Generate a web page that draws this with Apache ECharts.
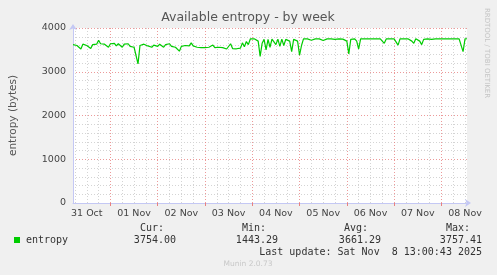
<!DOCTYPE html>
<html>
<head>
<meta charset="utf-8">
<script src="https://cdn.jsdelivr.net/npm/echarts@6/dist/echarts.min.js"></script>
<style>
html,body{margin:0;padding:0;background:#F0F0F0;}
#c{width:497px;height:275px;}
</style>
</head>
<body>
<div id="c"></div>
<script>
// hours since 31 Oct 00:00; first sample at 05:00, one sample per hour
const START_H = 5;
const END_H = 205;
const entropy = [
3620,3650,3600,3640,3520,3630,3660,3600,3640,3530,
3620,3650,3630,3720,3640,3630,3630,3620,3560,3640,
3610,3650,3590,3640,3600,3560,3630,3600,3640,3580,
3620,3560,3600,3180,3600,3580,3630,3670,3590,3620,
3560,3610,3650,3580,3630,3600,3560,3620,3590,3640,
3580,3610,3560,3590,3470,3580,3560,3600,3570,3590,
3660,3590,3570,3560,3580,3550,3570,3550,3540,3560,
3550,3610,3550,3540,3560,3530,3550,3530,3520,3560,
3640,3530,3520,3525,3530,3540,3660,3570,3690,3620,
3750,3752,3752,3750,3700,3350,3650,3740,3500,3740,
3560,3745,3700,3620,3745,3580,3745,3600,3740,3745,
3700,3460,3740,3748,3700,3380,3600,3750,3752,3752,
3752,3720,3752,3752,3752,3752,3752,3715,3752,3752,
3725,3752,3752,3740,3752,3752,3752,3745,3752,3700,
3410,3740,3752,3752,3700,3520,3750,3752,3752,3752,
3752,3752,3752,3752,3752,3752,3752,3752,3650,3750,
3715,3752,3752,3752,3752,3610,3750,3720,3750,3730,
3752,3752,3700,3650,3752,3752,3700,3620,3740,3700,
3752,3730,3740,3752,3752,3752,3752,3752,3752,3752,
3752,3752,3752,3752,3752,3752,3752,3752,3460,3750,
3754
];
const dayLabels = ['31 Oct','01 Nov','02 Nov','03 Nov','04 Nov','05 Nov','06 Nov','07 Nov','08 Nov'];
const midnights = [24,48,72,96,120,144,168,192];
const labelHours = [12,36,60,84,108,132,156,180,204];
const legendHeaders = ['Cur:','Min:','Avg:','Max:'];
const legendValues = ['3754.00','1443.29','3661.29','3757.41'];
const lastUpdate = 'Last update: Sat Nov  8 13:00:43 2025';

const sixHours = [];
for (let h = 6; h <= 204; h += 6) if (h % 24 !== 0) sixHours.push(h);

const seriesData = entropy.map((v, i) => [START_H + i, v]);

const MONO = '10px "DejaVu Sans Mono"';
const headRight = [164, 266, 368, 470];
const valRight = [176, 278, 381, 482];
const graphics = [
  {type:'text', style:{text:'Available entropy - by week', x:248, y:18, font:'12.5px "DejaVu Sans"', fill:'#555', align:'center', textAlign:'center', verticalAlign:'middle', textVerticalAlign:'middle'}},
  {type:'text', x:487, y:53, rotation:-Math.PI/2, style:{text:'RRDTOOL / TOBI OETIKER', x:0, y:0, font:'7px "DejaVu Sans"', fill:'#c4c4c4', align:'center', textAlign:'center', verticalAlign:'middle', textVerticalAlign:'middle'}},
  {type:'rect', shape:{x:14, y:237, width:6, height:6}, style:{fill:'#00CC00'}},
  {type:'text', style:{text:'entropy', x:26, y:240, font:MONO, fill:'#333', align:'left', textAlign:'left', verticalAlign:'middle', textVerticalAlign:'middle'}},
  {type:'text', style:{text:lastUpdate, x:482, y:252, font:MONO, fill:'#333', align:'right', textAlign:'right', verticalAlign:'middle', textVerticalAlign:'middle'}},
  {type:'text', style:{text:'Munin 2.0.73', x:248, y:264, font:'7.5px "DejaVu Sans"', fill:'#c8c8c8', align:'center', textAlign:'center', verticalAlign:'middle', textVerticalAlign:'middle'}}
];
legendHeaders.forEach((t, k) => graphics.push({type:'text', style:{text:t, x:headRight[k], y:228, font:MONO, fill:'#333', align:'right', textAlign:'right', verticalAlign:'middle', textVerticalAlign:'middle'}}));
legendValues.forEach((t, k) => graphics.push({type:'text', style:{text:t, x:valRight[k], y:240, font:MONO, fill:'#333', align:'right', textAlign:'right', verticalAlign:'middle', textVerticalAlign:'middle'}}));

const AXIS_COLOR = '#C4C8F4';
const MAJOR = 'rgba(230,120,120,0.75)';
const MINOR = '#d4d4d4';
const chart = echarts.init(document.getElementById('c'), null, {renderer:'canvas'});
chart.setOption({
  animation:false,
  backgroundColor:'#F0F0F0',
  textStyle:{fontFamily:'DejaVu Sans'},
  grid:{left:67, top:28, width:400, height:175, show:true, backgroundColor:'#FFFFFF', borderWidth:0},
  xAxis:[
    {type:'value', min:START_H, max:END_H, position:'bottom',
     axisLine:{show:false}, axisLabel:{show:false},
     axisTick:{show:false, customValues:sixHours},
     splitLine:{show:true, lineStyle:{color:MINOR, width:1, type:[1,2]}}},
    {type:'value', min:START_H, max:END_H, position:'bottom',
     axisLine:{show:true, onZero:false, lineStyle:{color:AXIS_COLOR, width:1}, symbol:['none','arrow'], symbolSize:[6,6], symbolOffset:[0,4]},
     axisTick:{show:true, customValues:midnights, length:3, lineStyle:{color:'#e88080'}},
     axisLabel:{show:true, customValues:labelHours, margin:6, fontSize:9.5, color:'#444', fontFamily:'DejaVu Sans',
       formatter:(v) => dayLabels[Math.round((v - 12) / 24)]},
     splitLine:{show:true, lineStyle:{color:MAJOR, width:1, type:[1,2]}}}
  ],
  yAxis:{type:'value', min:0, max:4000, interval:1000,
    name:'entropy (bytes)', nameLocation:'middle', nameRotate:90, nameGap:54,
    nameTextStyle:{fontSize:10.5, color:'#555', fontFamily:'DejaVu Sans'},
    axisLine:{show:true, lineStyle:{color:AXIS_COLOR, width:1}, symbol:['none','arrow'], symbolSize:[6,6], symbolOffset:[0,4]},
    axisTick:{show:false},
    axisLabel:{margin:7, fontSize:9.5, color:'#444', fontFamily:'DejaVu Sans', formatter:(v) => String(v)},
    splitLine:{show:true, lineStyle:{color:MAJOR, width:1, type:[1,2]}},
    minorTick:{show:false, splitNumber:5},
    minorSplitLine:{show:true, lineStyle:{color:MINOR, width:1, type:[1,2]}}},
  series:[{type:'line', xAxisIndex:1, data:seriesData, showSymbol:false, symbol:'none',
    lineStyle:{color:'#00CC00', width:1.2}, itemStyle:{color:'#00CC00'}, z:5}],
  graphic:graphics
});
</script>
</body>
</html>
